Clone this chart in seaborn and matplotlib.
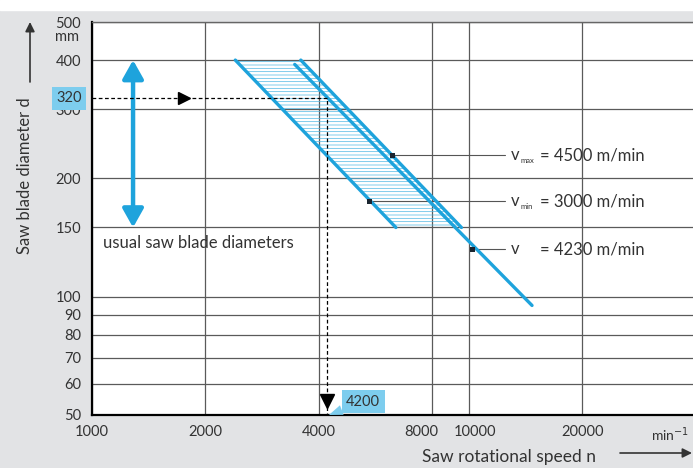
import matplotlib.pyplot as plt
import seaborn as sns
from matplotlib.patches import Rectangle
from matplotlib.transforms import offset_copy, ScaledTranslation

# values (saw rotational speed n in 1/min, blade diameter d in mm)
d_band = [400, 150]
n_vmin = [2400, 6400]
n_vmax = [3580, 9550]
d_v = [390, 95]
n_v = [3450, 14700]

marker_n = [6260, 5460, 10200]
marker_d = [229, 175, 132]
label_sub = ['max', 'min', '']
label_rest = ['= 4500 m/min', '= 3000 m/min', '= 4230 m/min']

n_read = 4200
d_read = 320

x_ticks = [1000, 2000, 4000, 8000, 10000, 20000]
y_ticks = [50, 60, 70, 80, 90, 100, 150, 200, 300, 400, 500]

BLUE = '#1ea3dc'
LBLUE = '#7dcdee'
BG = '#e2e3e5'
TXT = '#333333'
W, H = 693, 468

sns.set_style('white')
plt.rcParams['font.family'] = ['Lato', 'DejaVu Sans']
plt.rcParams['hatch.linewidth'] = 0.5

fig = plt.figure(figsize=(W / 100, H / 100), dpi=100, facecolor=BG)
fig.add_artist(Rectangle((0, 1 - 10 / H), 1, 10 / H, transform=fig.transFigure,
                         color='white', zorder=0))
ax = fig.add_axes([92 / W, 53 / H, (W - 92) / W, 393 / H])
ax.set_facecolor('white')

ax.set_xscale('log')
ax.set_yscale('log')
ax.set_xlim(1000, 39300)
ax.set_ylim(50, 500)

# hatched band between vmin and vmax
ax.fill_betweenx(d_band, n_vmin, n_vmax, facecolor='none', edgecolor='#4fb8e4',
                 hatch='-----', linewidth=0, zorder=2)
sns.lineplot(x=n_vmin, y=d_band, color=BLUE, lw=2.4, ax=ax, zorder=3)
sns.lineplot(x=n_vmax, y=d_band, color=BLUE, lw=2.4, ax=ax, zorder=3)
sns.lineplot(x=n_v, y=d_v, color=BLUE, lw=2.4, ax=ax, zorder=3)

# leader lines and labels
for n0, d0, sub, rest in zip(marker_n, marker_d, label_sub, label_rest):
    ax.plot([n0, 12450], [d0, d0], color='#555555', lw=0.8, zorder=2)
    ax.text(12900, d0, 'v', va='center', ha='left', fontsize=12, color=TXT)
    ax.text(12900, d0, sub, va='center', ha='left', fontsize=5.5, color=TXT,
            transform=offset_copy(ax.transData, fig=fig, x=10, y=-5, units='dots'))
    ax.text(12900, d0, rest, va='center', ha='left', fontsize=12, color=TXT,
            transform=offset_copy(ax.transData, fig=fig, x=29, y=0, units='dots'))
sns.scatterplot(x=marker_n, y=marker_d, marker='s', color='#1a2530', s=14,
                edgecolor='none', ax=ax, zorder=5)

# reading example: 320 mm -> 4200 1/min
ax.plot([1000, n_read, n_read], [d_read, d_read, 50], color='black', lw=0.9,
        dashes=(3, 2), zorder=4, clip_on=False)
ax.plot(1750, d_read, marker='>', ms=8, color='black', zorder=4)
ax.plot(n_read, 54.3, marker='v', ms=10, color='black', zorder=4)
ax.text(1000, d_read, '320', ha='right', va='center', fontsize=10.5, color=TXT,
        bbox=dict(boxstyle='square,pad=0.3', fc=LBLUE, ec='none'),
        transform=offset_copy(ax.transData, fig=fig, x=-10, y=0, units='dots'),
        clip_on=False)
ax.annotate('4200', xy=(4250, 50), xytext=(5240, 54), ha='center', va='center',
            fontsize=10.5, color=TXT,
            bbox=dict(boxstyle='square,pad=0.3', fc=LBLUE, ec='none'),
            arrowprops=dict(arrowstyle='wedge,tail_width=0.7,shrink_factor=0.5',
                            fc=LBLUE, ec='none', shrinkA=0, shrinkB=0),
            zorder=6, annotation_clip=False)

# usual saw blade diameters
ax.annotate('', xy=(1285, 400), xytext=(1285, 150),
            arrowprops=dict(arrowstyle='<|-|>,head_length=0.8,head_width=0.45',
                            color=BLUE, lw=3.2, mutation_scale=14,
                            shrinkA=0, shrinkB=0))
fig.text(103 / W, 1 - 243 / H, 'usual saw blade diameters', ha='left',
         va='center', fontsize=12, color=TXT)

# axes styling
ax.minorticks_off()
ax.set_xticks(x_ticks)
ax.set_xticklabels([str(v) for v in x_ticks])
ax.set_yticks(y_ticks)
ax.set_yticklabels([str(v) for v in y_ticks])
ax.set_axisbelow(True)
ax.grid(True, color='#5a5a5a', lw=0.9)
ax.tick_params(axis='x', length=0, pad=7, labelsize=10.5, labelcolor=TXT)
ax.tick_params(axis='y', length=5, width=0.8, color='#777777', pad=3,
               labelsize=10.5, labelcolor=TXT)
# 8000 and 10000 labels sit apart from their grid lines in the reference
shifts = {'8000': -11, '10000': 6}
for lab in ax.get_xticklabels():
    dx = shifts.get(lab.get_text(), 0)
    if dx:
        lab.set_transform(lab.get_transform() + ScaledTranslation(dx / 100, 0, fig.dpi_scale_trans))
for side in ['left', 'bottom']:
    ax.spines[side].set_color('black')
    ax.spines[side].set_linewidth(1.6)
ax.spines['top'].set_color('#666666')
ax.spines['top'].set_linewidth(1)
ax.spines['right'].set_visible(False)
ax.set_xlabel('')
ax.set_ylabel('')

# axis titles with arrows
fig.text(67 / W, 1 - 37 / H, 'mm', ha='center', va='center', fontsize=10.5, color=TXT)
fig.text(25 / W, 1 - 176 / H, 'Saw blade diameter d', rotation=90, ha='center',
         va='center', fontsize=12, color=TXT)
ax.annotate('', xy=(30, H - 22), xytext=(30, H - 82), xycoords='figure pixels',
            textcoords='figure pixels',
            arrowprops=dict(arrowstyle='-|>', color=TXT, lw=1.2, mutation_scale=14,
                            shrinkA=0, shrinkB=0))
fig.text(509 / W, 1 - 457 / H, 'Saw rotational speed n', ha='center', va='center',
         fontsize=12.5, color=TXT)
ax.annotate('', xy=(692, H - 453), xytext=(620, H - 453), xycoords='figure pixels',
            textcoords='figure pixels',
            arrowprops=dict(arrowstyle='-|>', color=TXT, lw=1.2, mutation_scale=14,
                            shrinkA=0, shrinkB=0))
fig.text(689 / W, 1 - 435 / H, 'min$^{-1}$', ha='right', va='center', fontsize=10,
         color=TXT)

fig.savefig('out.png', dpi=100, facecolor=fig.get_facecolor())
